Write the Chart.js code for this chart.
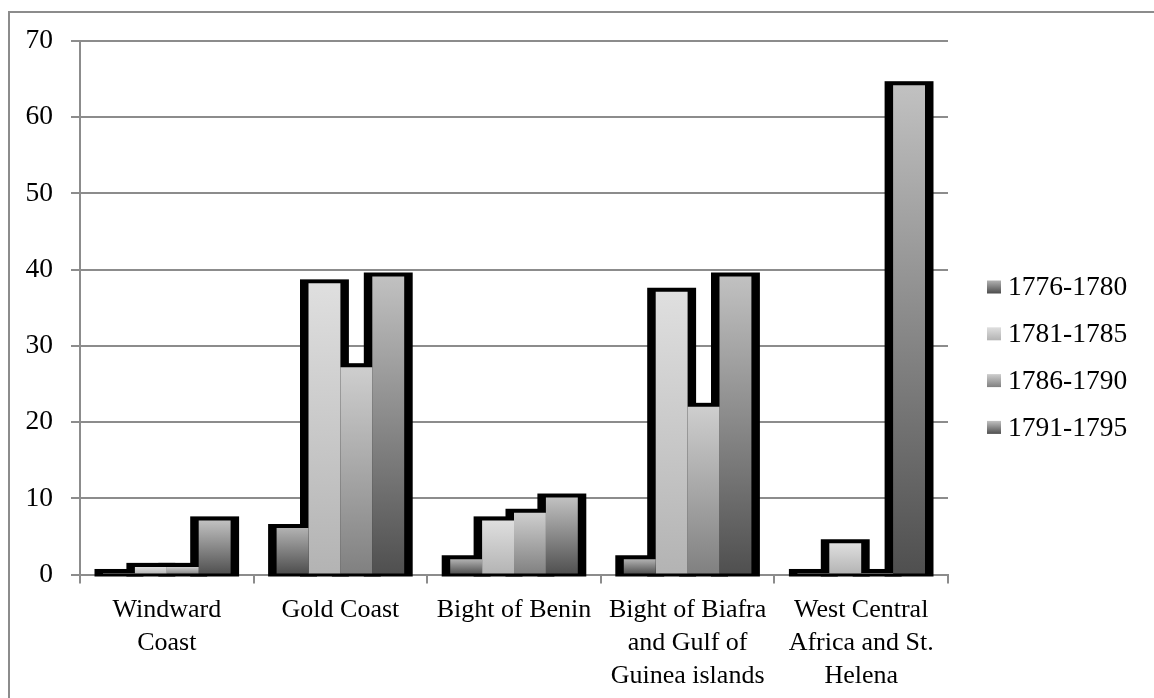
<!DOCTYPE html>
<html>
<head>
    <title>Regional shares 1776-1795</title>
    <script src="https://cdn.jsdelivr.net/npm/chart.js"></script>
    <style>
        body { margin: 0; background: #fff; }
        canvas { display: block; }
    </style>
</head>
<body>
    <canvas id="chart" width="1154" height="698"></canvas>

    <script>
        // Data
        const regions = [
            ['Windward', 'Coast'],
            'Gold Coast',
            'Bight of Benin',
            ['Bight of Biafra', 'and Gulf of', 'Guinea islands'],
            ['West Central', 'Africa and St.', 'Helena']
        ];
        const periods = ['1776-1780', '1781-1785', '1786-1790', '1791-1795'];
        const p1776 = [0.2, 6.1, 2.0, 2.0, 0.2];
        const p1781 = [1.0, 38.2, 7.1, 37.1, 4.1];
        const p1786 = [1.0, 27.2, 8.1, 22.0, 0.2];
        const p1791 = [7.1, 39.1, 10.1, 39.1, 64.2];
        const yTicks = [0, 10, 20, 30, 40, 50, 60, 70];

        // gradient top / bottom for each period
        const shades = [
            ['#b2b2b2', '#4c4c4c'],
            ['#dfdfdf', '#b3b3b3'],
            ['#cecece', '#808080'],
            ['#c1c1c1', '#4f4f4f']
        ];

        const FONT = 'Liberation Serif';

        function barFill(i) {
            return function (c) {
                const chart = c.chart;
                if (!chart.chartArea || c.raw === undefined) return shades[i][1];
                const y = chart.scales.y;
                const top = y.getPixelForValue(c.raw);
                const base = y.getPixelForValue(0);
                const g = chart.ctx.createLinearGradient(0, top, 0, base + 0.01);
                g.addColorStop(0, shades[i][0]);
                g.addColorStop(1, shades[i][1]);
                return g;
            };
        }

        // gray frame round the whole chart
        const framePlugin = {
            id: 'frame',
            beforeDraw(chart) {
                const ctx = chart.ctx;
                ctx.save();
                ctx.strokeStyle = '#8c8c8c';
                ctx.lineWidth = 2;
                ctx.strokeRect(9, 12, chart.width + 20, chart.height + 20);
                ctx.restore();
            }
        };

        // thick black silhouette behind each group of bars
        const outlinePlugin = {
            id: 'outline',
            beforeDatasetsDraw(chart) {
                const ctx = chart.ctx;
                ctx.save();
                ctx.fillStyle = '#000';
                chart.data.datasets.forEach((ds, i) => {
                    chart.getDatasetMeta(i).data.forEach(bar => {
                        const left = bar.x - bar.width / 2 - 8.5;
                        const right = bar.x + bar.width / 2 + 8.5;
                        const top = bar.y - 4;
                        const bottom = bar.base + 3;
                        ctx.fillRect(left, top, right - left, bottom - top);
                    });
                });
                ctx.restore();
            }
        };

        // legend on the right with gradient swatches
        const legendPlugin = {
            id: 'sideLegend',
            afterDraw(chart) {
                const ctx = chart.ctx;
                ctx.save();
                ctx.font = '27.5px "' + FONT + '"';
                ctx.textBaseline = 'middle';
                ctx.textAlign = 'left';
                periods.forEach((p, i) => {
                    const cy = 287 + i * 46.8;
                    const g = ctx.createLinearGradient(0, cy - 6.5, 0, cy + 6.5);
                    g.addColorStop(0, shades[i][0]);
                    g.addColorStop(1, shades[i][1]);
                    ctx.fillStyle = g;
                    ctx.fillRect(987, cy - 6.5, 14, 13);
                    ctx.fillStyle = '#000';
                    ctx.fillText(p, 1008, cy + 1);
                });
                ctx.restore();
            }
        };

        new Chart(document.getElementById('chart'), {
            type: 'bar',
            data: {
                labels: regions,
                datasets: [p1776, p1781, p1786, p1791].map((vals, i) => ({
                    label: periods[i],
                    data: vals,
                    backgroundColor: barFill(i),
                    borderWidth: 0,
                    categoryPercentage: 0.735,
                    barPercentage: 1.0
                }))
            },
            options: {
                responsive: false,
                animation: false,
                devicePixelRatio: 1,
                layout: { padding: { left: 0, top: 41, right: 206, bottom: 0 } },
                plugins: {
                    legend: { display: false },
                    tooltip: { enabled: false }
                },
                scales: {
                    x: {
                        offset: true,
                        grid: {
                            offset: true,
                            drawOnChartArea: false,
                            drawTicks: true,
                            tickLength: 9,
                            color: '#8c8c8c',
                            lineWidth: 2
                        },
                        border: { color: '#8c8c8c', width: 2 },
                        ticks: {
                            color: '#000',
                            font: { family: FONT, size: 26, lineHeight: 1.27 },
                            padding: 10,
                            maxRotation: 0,
                            autoSkip: false
                        },
                        afterFit(s) { s.height = 123.5; }
                    },
                    y: {
                        min: 0,
                        max: 70,
                        afterBuildTicks(s) { s.ticks = yTicks.map(v => ({ value: v })); },
                        grid: {
                            color: '#8c8c8c',
                            lineWidth: 2,
                            tickLength: 9
                        },
                        border: { color: '#8c8c8c', width: 2 },
                        ticks: {
                            color: '#000',
                            font: { family: FONT, size: 27.5 },
                            padding: 18
                        },
                        afterFit(s) { s.width = 80; }
                    }
                }
            },
            plugins: [framePlugin, outlinePlugin, legendPlugin]
        });
    </script>
</body>
</html>
